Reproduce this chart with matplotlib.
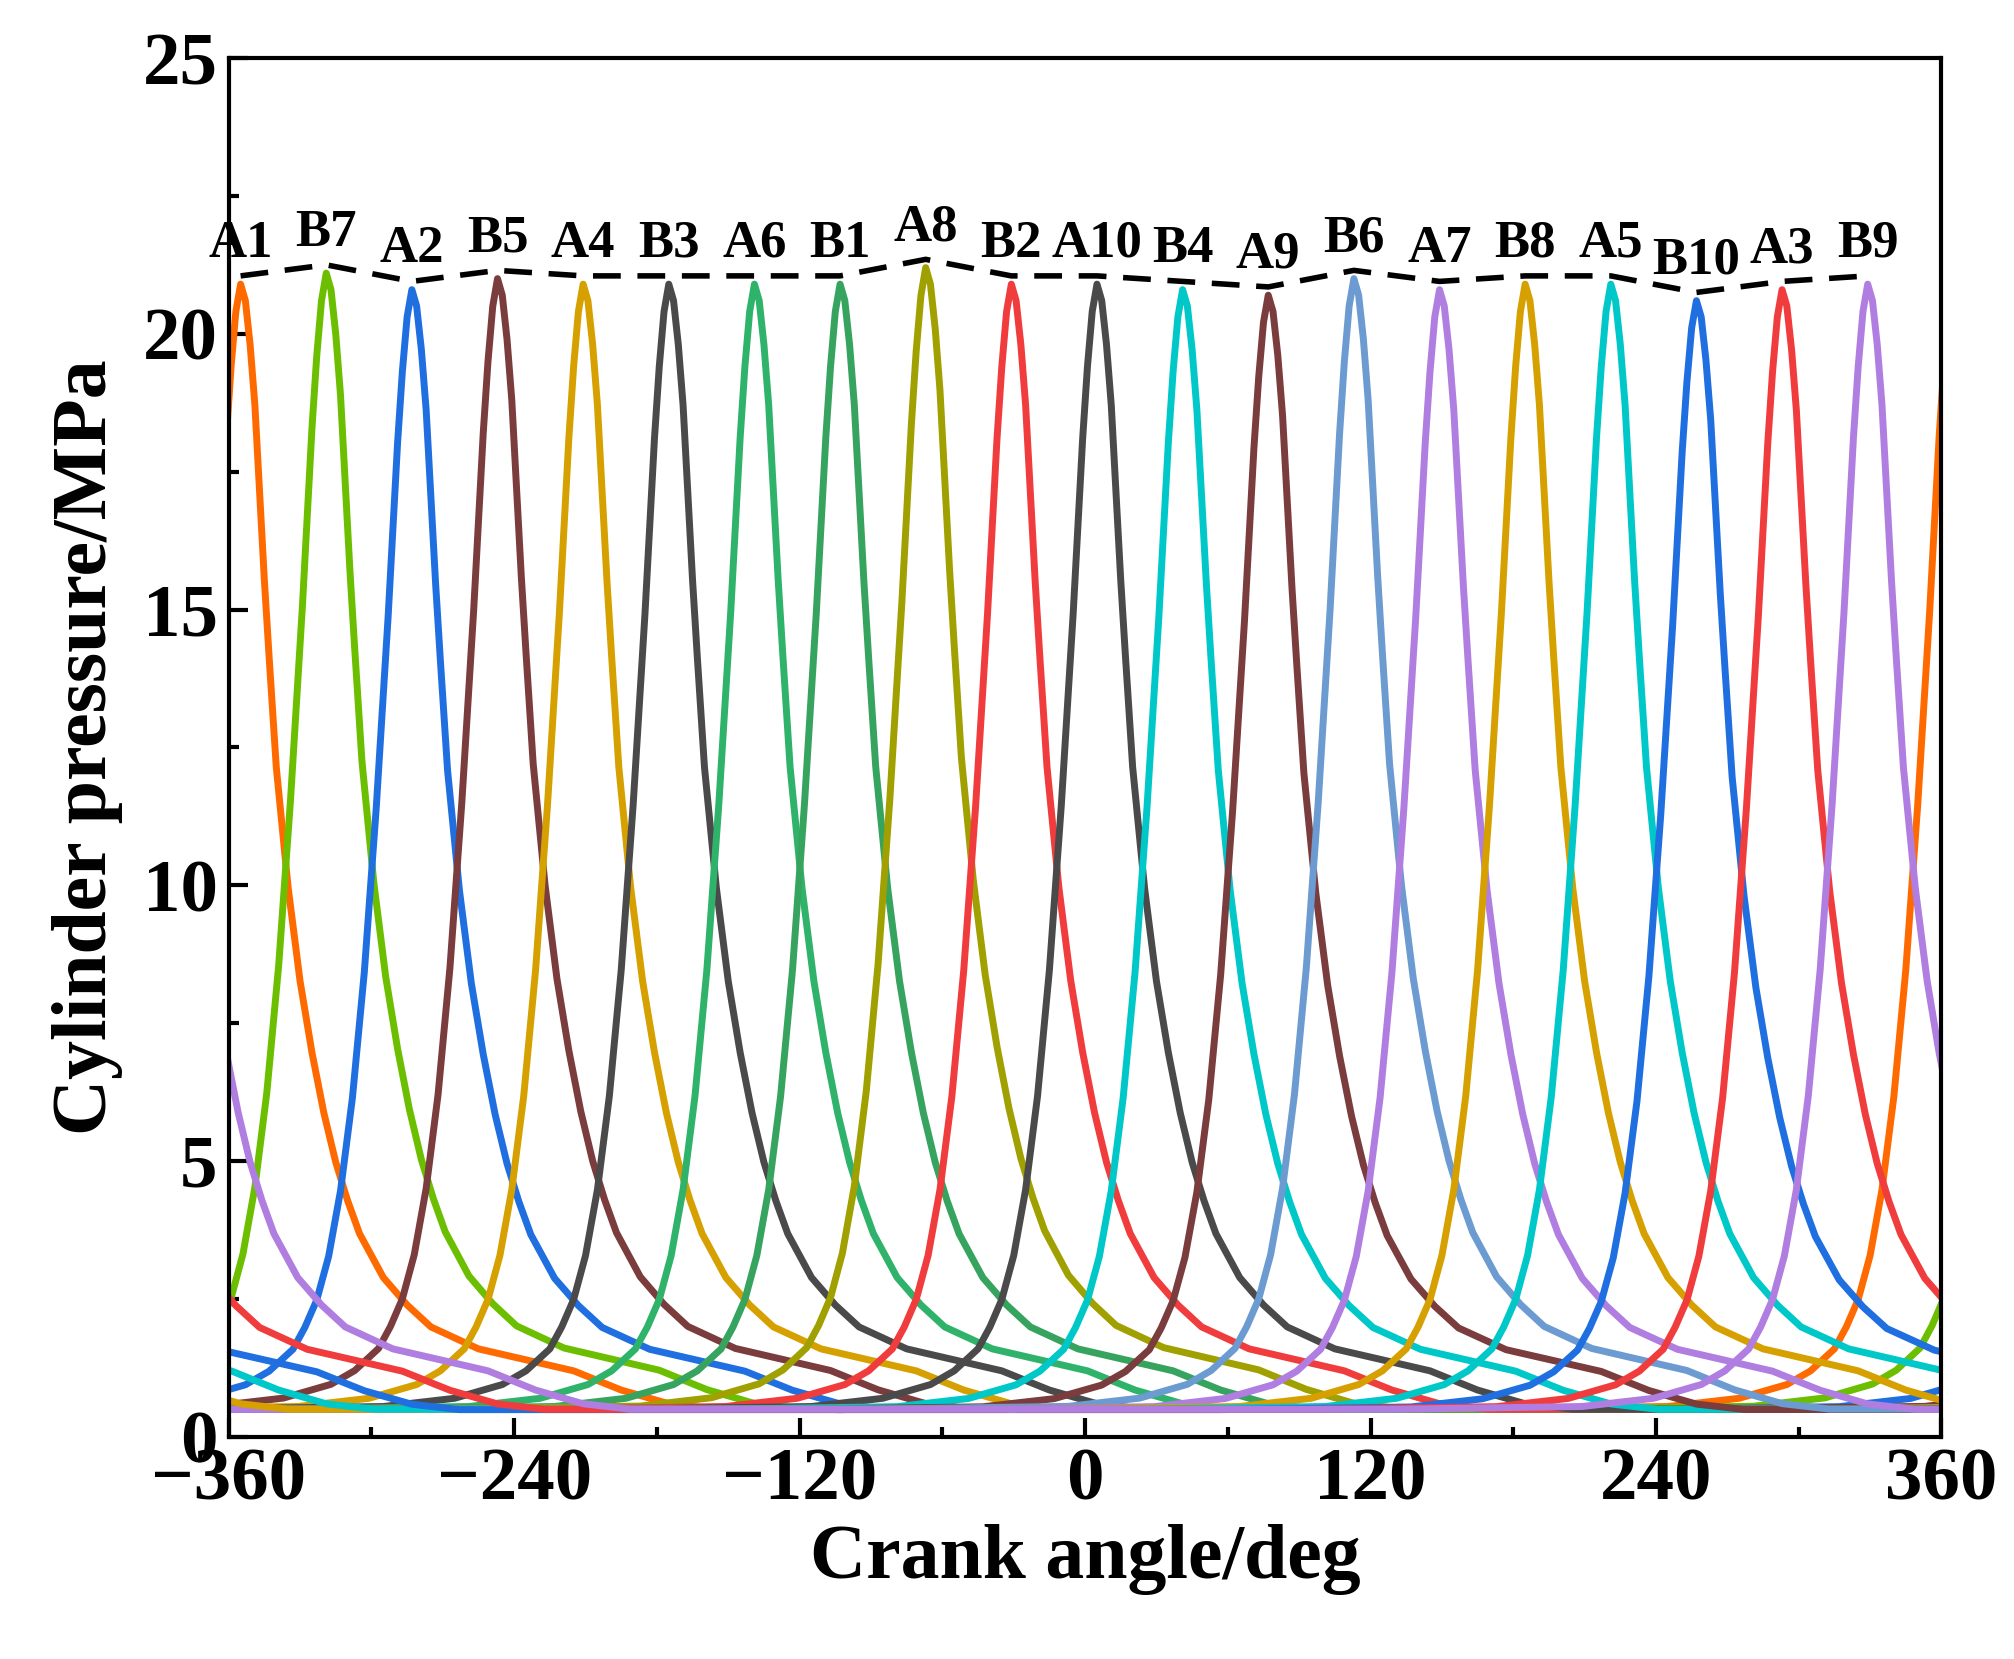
import matplotlib.pyplot as plt
import numpy as np

plt.rcParams['font.family'] = ['Liberation Serif', 'DejaVu Serif']
plt.rcParams['font.weight'] = 'bold'

# cylinder firing order and peak positions/pressures
names = ['A1', 'B7', 'A2', 'B5', 'A4', 'B3', 'A6', 'B1', 'A8', 'B2',
         'A10', 'B4', 'A9', 'B6', 'A7', 'B8', 'A5', 'B10', 'A3', 'B9']
peak_deg = [-355, -319, -283, -247, -211, -175, -139, -103, -67, -31,
            5, 41, 77, 113, 149, 185, 221, 257, 293, 329]
peak_mpa = [20.9, 21.1, 20.8, 21.0, 20.9, 20.9, 20.9, 20.9, 21.2, 20.9,
            20.9, 20.8, 20.7, 21.0, 20.8, 20.9, 20.9, 20.6, 20.8, 20.9]
colors = ['#ff6a00', '#6cbf00', '#1f6fe0', '#7a3c3c', '#d6a000', '#4a4a4a',
          '#2fb36a', '#36a45e', '#a0a000', '#f03c3c', '#4a4a4a', '#00c8c8',
          '#7a3c3c', '#6b9bd0', '#b07ee0', '#d6a000', '#00c8c8', '#1f6fe0',
          '#f03c3c', '#b07ee0']

# single-cylinder pressure profile (offset from peak, deg -> MPa)
prof_deg = [-360, -200, -120, -90, -70, -60, -50, -45, -40, -35, -30, -25, -20,
            -15, -12, -10, -8, -6, -4, -2, 0, 2, 4, 6, 8, 10, 12, 15, 20, 25,
            30, 35, 40, 45, 50, 60, 70, 80, 100, 120, 140, 160, 180, 200, 360]
prof_mpa = [0.5, 0.5, 0.55, 0.7, 0.95, 1.2, 1.6, 2.0, 2.5, 3.3, 4.5, 6.2, 8.5,
            11.5, 13.6, 15.0, 16.6, 18.2, 19.5, 20.5, 21.0, 20.7, 19.9, 18.8, 17.2,
            15.6, 14.2, 12.2, 10.0, 8.3, 7.0, 5.9, 5.0, 4.3, 3.7, 2.9, 2.4, 2.0,
            1.6, 1.4, 1.2, 0.85, 0.6, 0.5, 0.5]

fig = plt.figure(figsize=(20.15, 16.59), dpi=100)
ax = fig.add_axes([0.1135, 0.134, 0.85, 0.831])

px = np.array(prof_deg, dtype=float)
py = np.array(prof_mpa)
for d, p, c in zip(peak_deg, peak_mpa, colors):
    for shift in (-720, 0, 720):
        ax.plot(px + d + shift, py * p / 21.0, color=c, lw=5)

ax.plot(peak_deg, [p + 0.15 for p in peak_mpa], color='black', lw=4,
        dashes=(5, 3), zorder=5)
for n, d, p in zip(names, peak_deg, peak_mpa):
    ax.text(d, p + 0.3, n, ha='center', va='bottom', fontsize=38, fontweight='bold')

ax.set_xlim(-360, 360)
ax.set_ylim(0, 25)
ax.set_xticks(np.arange(-360, 361, 120))
ax.set_xticks(np.arange(-360, 361, 60), minor=True)
ax.set_yticks(np.arange(0, 26, 5))
ax.set_yticks(np.arange(0, 25.1, 2.5), minor=True)
ax.set_xticklabels(['\u2212360', '\u2212240', '\u2212120', '0', '120', '240', '360'])
ax.tick_params(which='both', direction='in', labelsize=54, width=3)
ax.tick_params(which='major', length=14, pad=8)
ax.tick_params(which='minor', length=7)
for s in ax.spines.values():
    s.set_linewidth(3)
ax.set_xlabel('Crank angle/deg', fontsize=56, fontweight='bold', labelpad=6)
ax.set_ylabel('Cylinder pressure/MPa', fontsize=56, fontweight='bold', labelpad=14)

fig.savefig('out.png', dpi=100)
